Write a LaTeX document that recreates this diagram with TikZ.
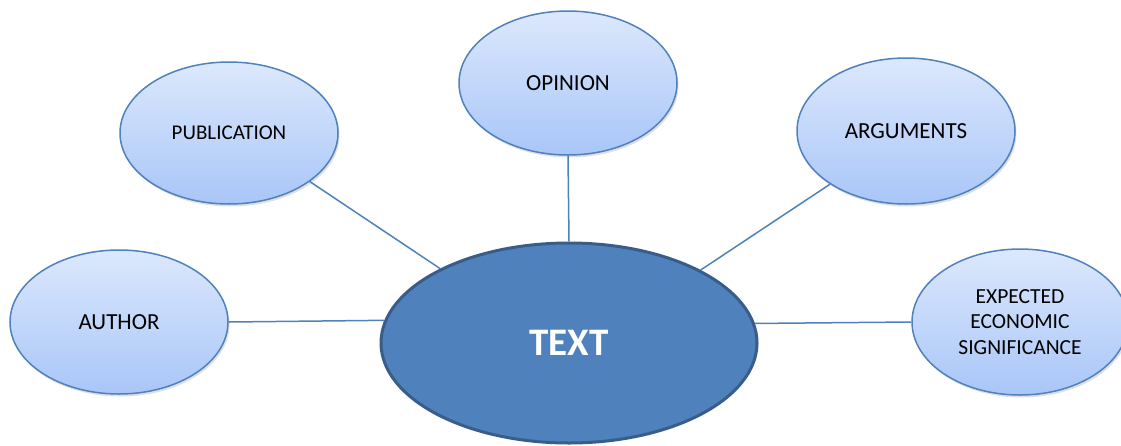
\documentclass[tikz,border=0pt]{standalone}
\usepackage{fontspec}
\setmainfont{Carlito}
\usetikzlibrary{shapes.geometric,shadows}
\definecolor{edgeblue}{HTML}{4F81BD}
\definecolor{topblue}{HTML}{DCE8FC}
\definecolor{botblue}{HTML}{A9C6F8}
\definecolor{centerfill}{HTML}{4F81BD}
\definecolor{centeredge}{HTML}{385D8A}
\tikzset{
  topic/.style={ellipse, draw=edgeblue, line width=1.5pt, top color=topblue, bottom color=botblue,
    minimum width=218pt, minimum height=144pt, inner sep=0pt, align=center, text=black,
    drop shadow={shadow xshift=1.5pt, shadow yshift=-2.5pt, opacity=0.25}},
  hub/.style={ellipse, draw=centeredge, line width=3pt, fill=centerfill,
    minimum width=376pt, minimum height=200pt, inner sep=0pt, text=white,
    font=\fontsize{39}{44}\selectfont\bfseries},
  link/.style={draw=edgeblue, line width=1.5pt},
  bigtxt/.style={font=\fontsize{23}{28}\selectfont},
}
\begin{document}
\begin{tikzpicture}[x=1pt,y=-1pt]
\useasboundingbox (0,0) rectangle (1121,445);
\node[topic, bigtxt] (author) at (119,322) {AUTHOR};
\node[topic, font=\fontsize{21}{25}\selectfont, minimum height=142pt] (pub) at (229,133) {PUBLICATION};
\node[topic, bigtxt] (opinion) at (568,83) {OPINION};
\node[topic, bigtxt, minimum height=146pt] (args) at (906,131) {ARGUMENTS};
\node[topic, font=\fontsize{21.5}{25.5}\selectfont, minimum width=216pt, minimum height=146pt] (exp) at (1020,322) {EXPECTED\\ECONOMIC\\SIGNIFICANCE};
\node[hub] (text) at (569,343) {TEXT};
\draw[link] (author.east) -- (text.173.3);
\draw[link] (pub.-31.7) -- (text.150.4);
\draw[link] (opinion.south) -- (text.north);
\draw[link] (args.-145.6) -- (text.29.2);
\draw[link] (exp.west) -- (text.6.7);
\end{tikzpicture}
\end{document}
